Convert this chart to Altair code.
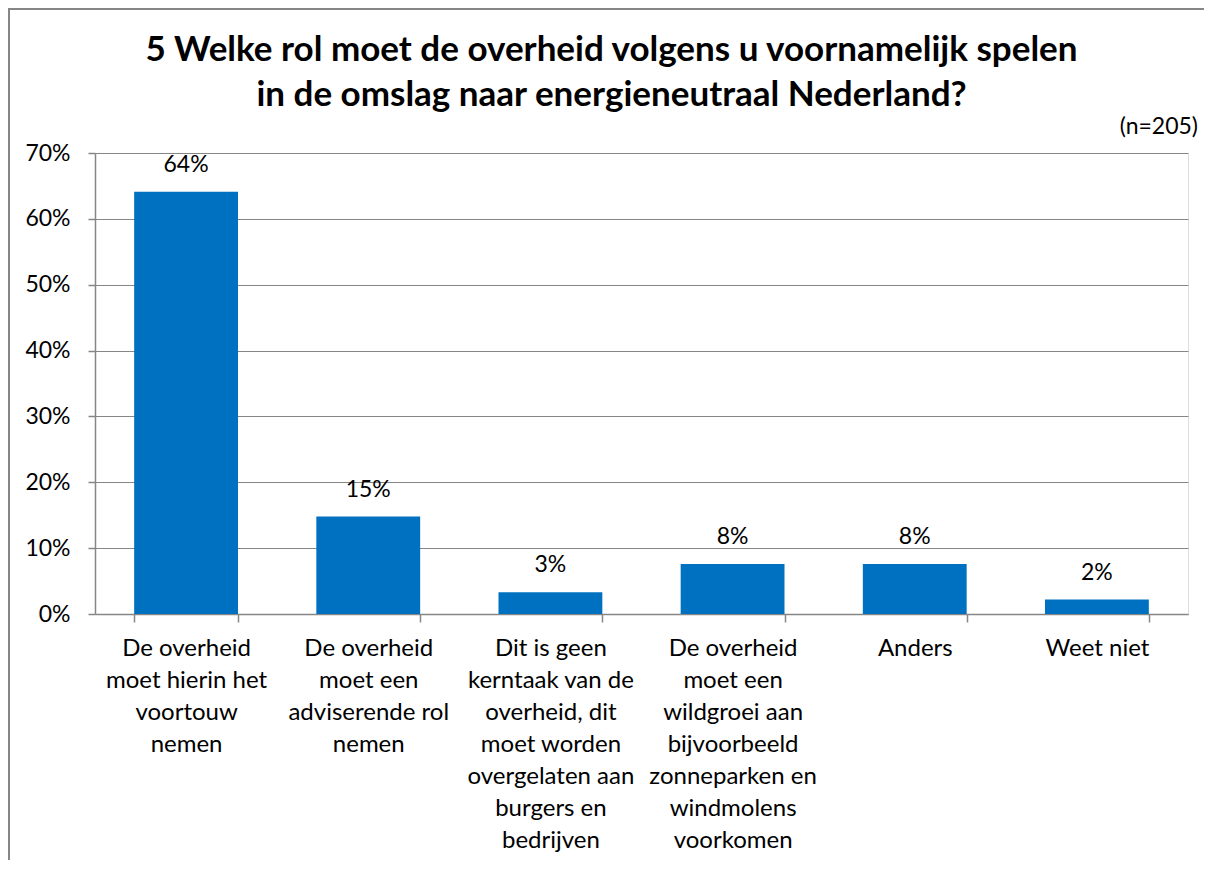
import altair as alt
import pandas as pd

categories = [
    "De overheid\nmoet hierin het\nvoortouw\nnemen",
    "De overheid\nmoet een\nadviserende rol\nnemen",
    "Dit is geen\nkerntaak van de\noverheid, dit\nmoet worden\novergelaten aan\nburgers en\nbedrijven",
    "De overheid\nmoet een\nwildgroei aan\nbijvoorbeeld\nzonneparken en\nwindmolens\nvoorkomen",
    "Anders",
    "Weet niet",
]
values = [0.641, 0.148, 0.033, 0.076, 0.076, 0.022]
y_ticks = [0, 0.1, 0.2, 0.3, 0.4, 0.5, 0.6, 0.7]

df = pd.DataFrame({"cat": categories, "val": values})

FONT = "Lato"
GRAY = "#868686"
BLUE = "#0070C0"
FS = 23

x_enc = alt.X(
    "cat:N", sort=categories, title=None,
    scale=alt.Scale(paddingInner=0.43, paddingOuter=0.215),
    axis=alt.Axis(
        labelExpr="split(datum.label, '\\n')", labelAngle=0,
        labelFontSize=24, labelLineHeight=32, labelColor="black", labelFont=FONT,
        labelPadding=14, labelBaseline="top", labelLimit=300,
        tickBand="extent", tickSize=8, tickColor=GRAY, tickWidth=1.5,
        domainColor=GRAY, domainWidth=1.5, grid=False,
    ),
)
y_enc = alt.Y(
    "val:Q", title=None,
    scale=alt.Scale(domain=[0, 0.7], nice=False),
    axis=alt.Axis(
        values=y_ticks, format=".0%", labelFontSize=FS, labelColor="black",
        labelFont=FONT, labelPadding=18, tickSize=7, tickColor=GRAY, tickWidth=1.5,
        domainColor=GRAY, domainWidth=1.5, gridColor=GRAY, gridWidth=1.2,
    ),
)

bars = alt.Chart(df).mark_bar(color=BLUE).encode(x=x_enc, y=y_enc)
labels = alt.Chart(df).mark_text(
    baseline="bottom", dy=-15, fontSize=FS, font=FONT, color="black"
).encode(x=alt.X("cat:N", sort=categories), y="val:Q", text=alt.Text("val:Q", format=".0%"))

note = alt.Chart(pd.DataFrame({"t": ["(n=205)"]})).mark_text(
    align="right", baseline="bottom", fontSize=FS, font=FONT, color="black"
).encode(x=alt.value(1103), y=alt.value(-14), text="t:N")

frame_left = alt.Chart(pd.DataFrame({"a": [0]})).mark_rule(color=GRAY, strokeWidth=2).encode(
    x=alt.value(-86), y=alt.value(-145), y2=alt.value(720)
)
frame_top = alt.Chart(pd.DataFrame({"a": [0]})).mark_rule(color=GRAY, strokeWidth=2).encode(
    x=alt.value(-87), x2=alt.value(1120), y=alt.value(-144)
)

chart = alt.layer(bars, labels, note, frame_left, frame_top).properties(
    width=1093, height=461,
    autosize=alt.AutoSizeParams(type="none"),
    padding={"left": 87, "top": 145, "right": 16, "bottom": 246},
    title=alt.TitleParams(
        ["5 Welke rol moet de overheid volgens u voornamelijk spelen",
         "in de omslag naar energieneutraal Nederland?"],
        anchor="middle", frame="bounds", fontSize=35, font=FONT, fontWeight="bold",
        color="black", lineHeight=45, offset=-106, dx=0,
    ),
).configure_view(stroke=None).configure(background="white")

chart.save("out.html", embed_options={"renderer": "svg", "actions": False})
